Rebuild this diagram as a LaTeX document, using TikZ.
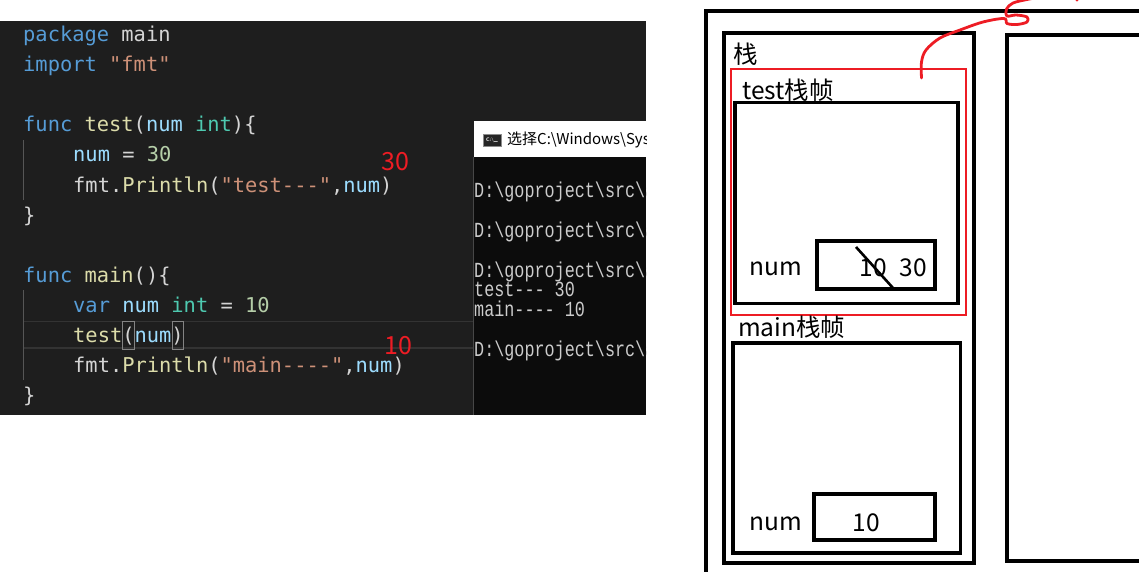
\documentclass[tikz,border=0pt]{standalone}
\usepackage{fontspec}
\usepackage{graphicx}
\setmonofont{DejaVu Sans Mono}
\newfontfamily\cjk{Noto Sans CJK SC}
\newfontfamily\consfont{Liberation Mono}
\definecolor{codebg}{HTML}{1E1E1E}
\definecolor{consbg}{HTML}{0C0C0C}
\definecolor{consfg}{HTML}{CCCCCC}
\definecolor{kw}{HTML}{569CD6}
\definecolor{fn}{HTML}{DCDCAA}
\definecolor{str}{HTML}{CE9178}
\definecolor{ty}{HTML}{4EC9B0}
\definecolor{numc}{HTML}{B5CEA8}
\definecolor{vr}{HTML}{9CDCFE}
\definecolor{fg}{HTML}{D4D4D4}
\definecolor{pen}{HTML}{ED1C24}
\newcommand\hy{\mbox{-}}
\newcommand\codefnt{\fontsize{20.4}{24}\selectfont\ttfamily}
\newcommand\lblfnt{\cjk\fontsize{24.5}{28}\selectfont}
\newcommand\consline[1]{\scalebox{0.78}[1]{\consfont\fontsize{21.5}{22}\selectfont #1}}
\tikzset{
  code/.style={anchor=base west, inner sep=0pt, font=\codefnt, text=fg},
  cons/.style={anchor=base west, inner sep=0pt, text=consfg},
  lbl/.style={inner sep=0pt, font=\lblfnt, text=black},
  annot/.style={inner sep=0pt, font=\cjk\fontsize{25}{30}\selectfont, text=pen},
  box/.style={draw=black, line width=3.2pt},
  redbox/.style={draw=pen, line width=2.8pt},
  penline/.style={draw=pen, line width=2.8pt, line cap=round, line join=round},
}
\begin{document}
\begin{tikzpicture}[x=1pt, y=-1pt]
\useasboundingbox (0,0) rectangle (1139,572);
\begin{scope}
\clip (0,0) rectangle (1139,572);
% ---------- code editor ----------
\fill[codebg] (0,21) rectangle (646,415);
\draw[color=black!80!white, line width=1.5pt] (23,321.5) -- (474,321.5) (23,348) -- (474,348);
\draw[color=white!25!codebg, line width=1pt] (23.5,140) -- (23.5,200) (23.5,290) -- (23.5,380);
\draw[color=white!45!codebg, line width=1pt] (122,321) rectangle (134,349) (172,321) rectangle (183.5,349);
\node[code] (c1) at (23,42) {\textcolor{kw}{package} main};
\node[code] (c2) at (23,72) {\textcolor{kw}{import} \textcolor{str}{"fmt"}};
\node[code] (c3) at (23,132) {\textcolor{kw}{func} \textcolor{fn}{test}(\textcolor{vr}{num} \textcolor{ty}{int})\{};
\node[code] (c4) at (73,162) {\textcolor{vr}{num} = \textcolor{numc}{30}};
\node[code] (c5) at (73,192) {fmt.\textcolor{fn}{Println}(\textcolor{str}{"test\hy\hy\hy"},\textcolor{vr}{num})};
\node[code] (c6) at (23,222) {\}};
\node[code] (c7) at (23,282) {\textcolor{kw}{func} \textcolor{fn}{main}()\{};
\node[code] (c8) at (73,312) {\textcolor{kw}{var} \textcolor{vr}{num} \textcolor{ty}{int} = \textcolor{numc}{10}};
\node[code] (c9) at (73,342) {\textcolor{fn}{test}(\textcolor{vr}{num})};
\node[code] (c10) at (73,372) {fmt.\textcolor{fn}{Println}(\textcolor{str}{"main\hy\hy\hy\hy"},\textcolor{vr}{num})};
\node[code] (c11) at (23,402) {\}};
\node[annot] (r30) at (395,162) {30};
\node[annot] (r10) at (398,346) {10};
% ---------- console ----------
\fill[white] (474,121) rectangle (646,157);
\fill[consbg] (474,157) rectangle (646,415);
\draw[color=white!18!codebg, line width=1pt] (473.5,157) -- (473.5,415);
\fill[black!85] (483,134) rectangle (501,146);
\draw[black!45, line width=0.6pt] (483,134) rectangle (501,146);
\node[inner sep=0pt, text=white, font=\sffamily\bfseries\fontsize{5}{6}\selectfont] (ico) at (492,140.5) {C:\textbackslash\_};
\begin{scope}
\clip (474,121) rectangle (646,415);
\node[anchor=west, inner sep=0pt, font=\cjk\fontsize{15}{18}\selectfont, text=black] (title) at (507,140) {选择C:\textbackslash Windows\textbackslash System32};
\node[cons] (l1) at (474,197) {\consline{D:\textbackslash goproject\textbackslash src\textbackslash abc}};
\node[cons] (l2) at (474,237) {\consline{D:\textbackslash goproject\textbackslash src\textbackslash abc}};
\node[cons] (l3) at (474,277) {\consline{D:\textbackslash goproject\textbackslash src\textbackslash abc}};
\node[cons] (l4) at (474,296) {\consline{test\hy\hy\hy{} 30}};
\node[cons] (l5) at (474,316) {\consline{main\hy\hy\hy\hy{} 10}};
\node[cons] (l6) at (474,356) {\consline{D:\textbackslash goproject\textbackslash src\textbackslash abc}};
\end{scope}
% ---------- memory diagram ----------
\draw[box] (706,11) rectangle (1160,600);
\draw[box] (724,33) rectangle (974,563);
\draw[box] (1007,35) rectangle (1160,561);
\node[lbl] (zhan) at (745.5,54) {栈};
\draw[redbox] (731,69) rectangle (966,315);
\node[lbl, anchor=west] (testlbl) at (742,90) {test栈帧};
\draw[box] (735,102.5) rectangle (958,303.5);
\node[lbl] (num1) at (776,268.5) {num};
\draw[box] (817,241) rectangle (935,289);
\node[lbl] (v10a) at (873.5,267.5) {10};
\node[lbl] (v30) at (913.5,267.5) {30};
\draw[line width=2.6pt] (856,247) -- (893,288);
\node[lbl, anchor=west] (mainlbl) at (738,327) {main栈帧};
\draw[box] (733,343) rectangle (960.5,553);
\node[lbl] (num2) at (776,523.5) {num};
\draw[box] (814,494) rectangle (935,540);
\node[lbl] (v10b) at (866.5,522.5) {10};
% red pen stroke
\draw[penline] plot[smooth, tension=0.55] coordinates {(921.5,78) (921.5,62) (926,50) (940,38) (960,30) (983,22) (1004,18.5) (1007,23.5) (1017,24.5) (1027,22) (1027,17) (1016,15) (1007,16) (1006.5,9) (1013,3) (1027,-0.5) (1040,-3)};
\fill[pen] (1077,0) circle (1.6);
\end{scope}
\end{tikzpicture}
\end{document}
